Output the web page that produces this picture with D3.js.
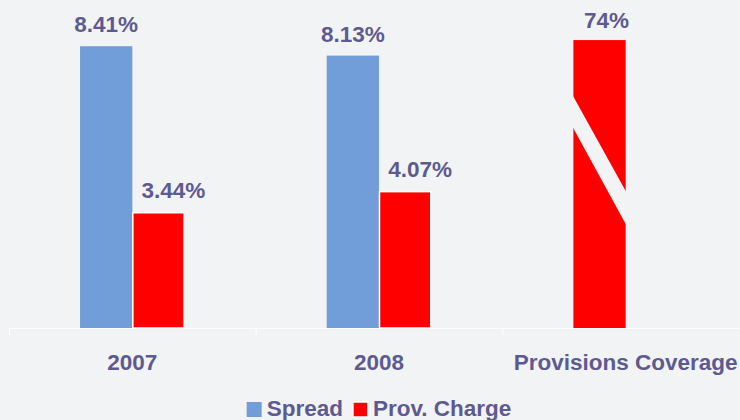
<!DOCTYPE html>
<html>
<head>
<meta charset="utf-8">
<script src="https://cdn.jsdelivr.net/npm/d3@7"></script>
<style>
html,body{margin:0;padding:0;background:#f2f3f5;}
svg{display:block;}
text{font-family:"Liberation Sans",Arial,sans-serif;font-weight:bold;fill:#5d5a90;}
</style>
</head>
<body>
<svg id="chart" width="740" height="420"></svg>
<script>
const categories = ["2007", "2008", "Provisions Coverage"];
const seriesNames = ["Spread", "Prov. Charge"];
const spreadValues = [8.41, 8.13, null];
const provChargeValues = [3.44, 4.07, null];
const coverageValue = 74;
const spreadLabels = ["8.41%", "8.13%", null];
const provLabels = ["3.44%", "4.07%", null];
const coverageLabel = "74%";

const W = 740, H = 420;
const bg = "#f2f3f5";
const colors = {"Spread": "#719dd9", "Prov. Charge": "#ff0000"};
const baseY = 328;

const svg = d3.select("#chart");
svg.append("rect").attr("width", W).attr("height", H).attr("fill", bg);

const x0 = d3.scaleBand().domain(categories).range([9, 749]).padding(0);
const bw = x0.bandwidth();
const x1 = d3.scaleBand().domain(seriesNames).range([bw * 0.288, bw * 0.712]).padding(0);
const y = d3.scaleLinear().domain([0, 9.79]).range([baseY, 0]);
const yCov = d3.scaleLinear().domain([0, 84.3]).range([baseY, 0]);

const rows = categories.map((c, i) => ({cat: c, spread: spreadValues[i], prov: provChargeValues[i], sl: spreadLabels[i], pl: provLabels[i]}));

// axis
const axis = d3.axisBottom(x0).tickSizeOuter(0).tickSizeInner(7).tickFormat("");
const gAxis = svg.append("g").attr("transform", `translate(0,${baseY})`).call(axis);
gAxis.select(".domain").attr("stroke", "#ffffff").attr("stroke-width", 1.2);
// ticks at band boundaries
gAxis.selectAll(".tick").remove();
const bounds = categories.map(c => x0(c));
gAxis.selectAll("line.b").data(bounds).join("line").attr("class","b")
  .attr("x1", d => d + 0.5).attr("x2", d => d + 0.5).attr("y1", 0).attr("y2", 7)
  .attr("stroke", "#ffffff").attr("stroke-width", 1);

// bars
const g = svg.append("g");
rows.forEach(r => {
  if (r.spread != null) {
    g.append("rect").attr("x", x0(r.cat) + x1("Spread")).attr("y", y(r.spread))
      .attr("width", x1.bandwidth()).attr("height", baseY - y(r.spread))
      .attr("fill", colors["Spread"]);
    g.append("text").attr("x", x0(r.cat) + x1("Spread") + x1.bandwidth() / 2).attr("y", y(r.spread) - 14)
      .attr("text-anchor", "middle").style("font-size", "22.5px").text(r.sl);
  }
  if (r.prov != null) {
    g.append("rect").attr("x", x0(r.cat) + x1("Prov. Charge") + 0.5).attr("y", y(r.prov))
      .attr("width", x1.bandwidth() - 1).attr("height", baseY - y(r.prov))
      .attr("fill", colors["Prov. Charge"]).attr("stroke", "#ffffff").attr("stroke-width", 1.5);
    g.append("text").attr("x", x0(r.cat) + x1("Prov. Charge") + x1.bandwidth() / 2 + 15).attr("y", y(r.prov) - 15)
      .attr("text-anchor", "middle").style("font-size", "22.5px").text(r.pl);
  }
});

// coverage bar (broken)
const cx = x0("Provisions Coverage") + x1("Spread");
const cw = x1.bandwidth();
const cTop = yCov(coverageValue);
const cH = baseY - cTop;
g.append("rect").attr("x", cx).attr("y", cTop).attr("width", cw).attr("height", cH)
  .attr("fill", colors["Prov. Charge"]);
const f = [0.19, 0.30, 0.53, 0.645];
g.append("polygon")
  .attr("points", [
    [cx - 1, cTop + cH * f[0]],
    [cx + cw + 1, cTop + cH * f[2]],
    [cx + cw + 1, cTop + cH * f[3]],
    [cx - 1, cTop + cH * f[1]]
  ].map(p => p.join(",")).join(" "))
  .attr("fill", bg);
g.append("text").attr("x", cx + cw / 2 + 7).attr("y", cTop - 12)
  .attr("text-anchor", "middle").style("font-size", "22.5px").text(coverageLabel);

// category labels
svg.append("g").selectAll("text").data(categories).join("text")
  .attr("x", d => x0(d) + bw / 2).attr("y", 370)
  .attr("text-anchor", "middle").style("font-size", "22.5px").text(d => d);

// legend
const leg = svg.append("g");
let lx = 0;
seriesNames.forEach((s, i) => {
  const item = leg.append("g").attr("transform", `translate(${lx},0)`);
  item.append("rect").attr("x", 0).attr("y", 402).attr("width", 15).attr("height", 15)
    .attr("fill", colors[s]).attr("stroke", s === "Prov. Charge" ? "#ffffff" : "none").attr("stroke-width", 1.5);
  const t = item.append("text").attr("x", 20).attr("y", 416).style("font-size", "22.5px").text(s);
  lx += 20 + t.node().getComputedTextLength() + 10;
});
const legW = lx - 10;
leg.attr("transform", `translate(${x0("2008") + bw / 2 - legW / 2},0)`);
</script>
</body>
</html>
